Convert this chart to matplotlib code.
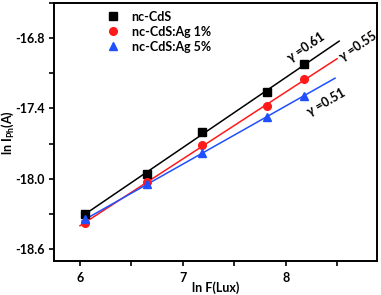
import numpy as np
import matplotlib
matplotlib.use("Agg")
import matplotlib.pyplot as plt
from matplotlib.ticker import MultipleLocator

plt.rcParams['font.family'] = ['Lato', 'DejaVu Sans']
plt.rcParams['font.weight'] = 'bold'
plt.rcParams['mathtext.fontset'] = 'custom'
plt.rcParams['mathtext.rm'] = 'Lato:bold'
plt.rcParams['mathtext.bf'] = 'Lato:bold'
plt.rcParams['mathtext.it'] = 'Lato:bold'

lnF = [6.05, 6.65, 7.19, 7.82, 8.18]
cds = [-18.30, -17.96, -17.60, -17.26, -17.02]
ag1 = [-18.38, -18.03, -17.71, -17.38, -17.15]
ag5 = [-18.35, -18.05, -17.78, -17.47, -17.29]
labels = ['nc-CdS', 'nc-CdS:Ag 1%', 'nc-CdS:Ag 5%']
gammas = ['γ =0.61', 'γ =0.55', 'γ =0.51']
colors = ['black', '#ff1a1a', '#1f4fff']
markers = ['s', 'o', '^']
fit_ranges = [(6.05, 8.52), (6.0, 8.50), (6.02, 8.48)]

FS = 9

fig = plt.figure(figsize=(3.81, 2.95), dpi=100)
ax = fig.add_axes([0.1417, 0.1136, 0.8478, 0.8762])

for y, lab, c, m, (x0, x1) in zip([cds, ag1, ag5], labels, colors, markers, fit_ranges):
    k, b = np.polyfit(lnF, y, 1)
    xx = np.array([x0, x1])
    ax.plot(xx, k * xx + b, color=c, lw=1.1, zorder=2)
    ax.plot(lnF, y, linestyle='none', marker=m, color=c, ms=5.5, label=lab, zorder=3)

ax.text(8.20, -16.875, gammas[0], rotation=34, ha='center', va='center', fontsize=FS, fontweight='bold')
ax.text(8.70, -16.87, gammas[1], rotation=34, ha='center', va='center', fontsize=FS, fontweight='bold')
ax.text(8.39, -17.345, gammas[2], rotation=30, ha='center', va='center', fontsize=FS, fontweight='bold')

ax.set_xlim(5.747, 8.888)
ax.set_ylim(-18.71, -16.497)
ax.xaxis.set_major_locator(MultipleLocator(1))
ax.xaxis.set_minor_locator(MultipleLocator(0.5))
ax.yaxis.set_major_locator(MultipleLocator(0.6))
ax.yaxis.set_minor_locator(MultipleLocator(0.3))
ax.set_yticks([-16.8, -17.4, -18.0, -18.6])
ax.set_yticklabels(['-16.8', '-17.4', '-18.0', '-18.6'])
ax.tick_params(which='both', direction='out', width=1.2, labelsize=FS)
ax.tick_params(axis='x', pad=4)
ax.tick_params(axis='y', pad=3)
ax.tick_params(which='major', length=3.5)
ax.tick_params(which='minor', length=3.5, labelbottom=False, labelleft=False)
for s in ax.spines.values():
    s.set_linewidth(1.4)
for t in ax.get_xticklabels() + ax.get_yticklabels():
    t.set_fontweight('bold')

ax.set_xlabel('ln F(Lux)', fontsize=FS, fontweight='bold')
ax.set_ylabel(r'ln I$_{\mathrm{Ph}}$(A)', fontsize=FS, fontweight='bold')
ax.xaxis.set_label_coords(0.5, -0.075)
ax.yaxis.set_label_coords(-0.117, 0.5)

leg = ax.legend(loc='upper left', bbox_to_anchor=(0.14, 1.0), frameon=False, fontsize=FS,
                handlelength=1.0, handletextpad=1.0, labelspacing=0.25, borderaxespad=0.2)
for t in leg.get_texts():
    t.set_fontweight('bold')

fig.savefig('out.png', dpi=100)
